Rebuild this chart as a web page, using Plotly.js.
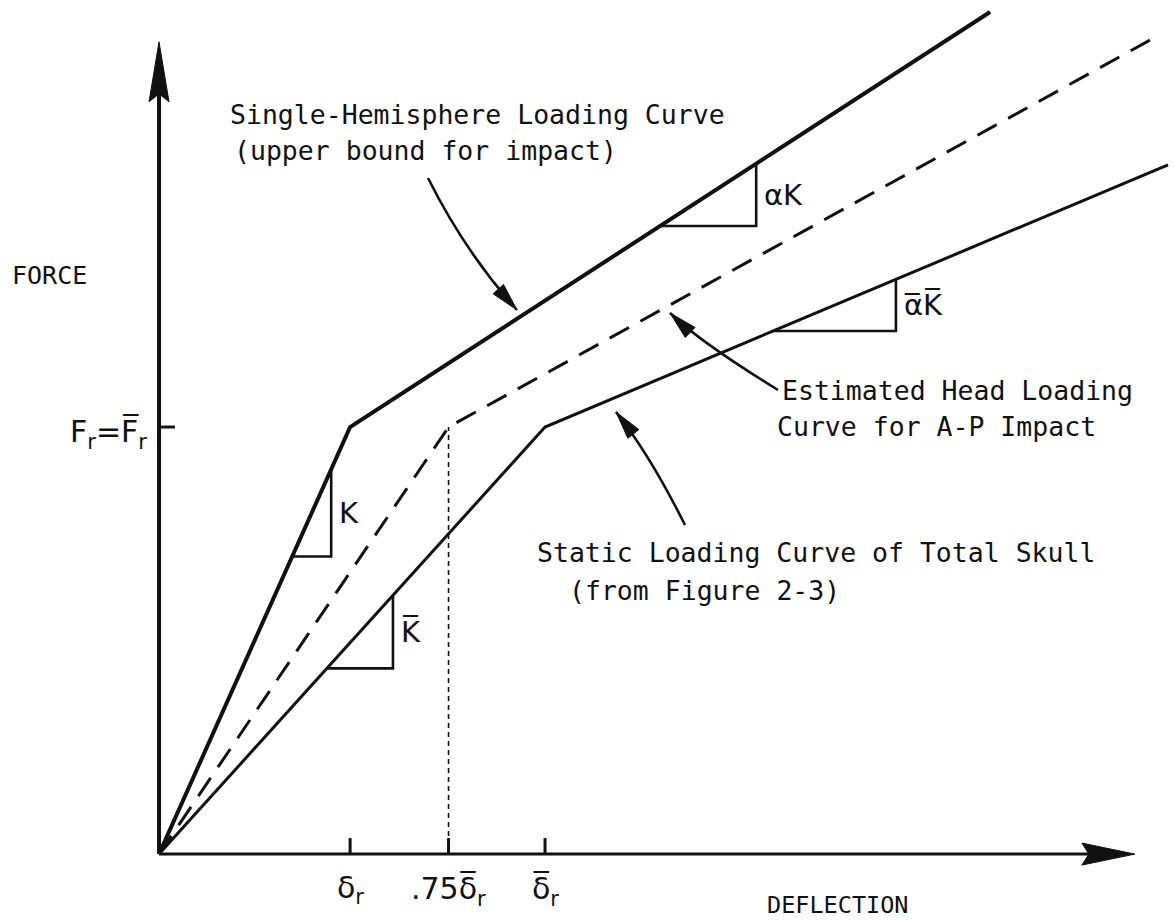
<!DOCTYPE html>
<html>
<head>
<meta charset="utf-8">
<script src="https://cdn.plot.ly/plotly-3.0.1.min.js"></script>
<style>
  html, body { margin: 0; padding: 0; background: #fff; }
  #chart { width: 1175px; height: 922px; }
</style>
</head>
<body>
<div id="chart"></div>
<script>
// Force–deflection idealisation: deflection in units of the static rupture
// deflection (δ̅r = 1), force in units of the rupture force (Fr = 1).

// Single-hemisphere loading curve (upper bound for impact)
const upperDeflection = [0, 0.495, 2.153];
const upperForce      = [0, 1.0,   1.972];

// Estimated head loading curve for A-P impact
const estimatedDeflection = [0, 0.75, 2.567];
const estimatedForce      = [0, 1.0,  1.906];

// Static loading curve of total skull
const staticDeflection = [0, 1.0, 2.614];
const staticForce      = [0, 1.0, 1.614];

// Axis tick positions and labels
const deflectionTicks  = [0.495, 0.75, 1.0];
const deflectionLabels = ['δ<sub>r</sub>', '.75δ\u0305<sub>r</sub>', 'δ\u0305<sub>r</sub>'];
const forceTicks  = [1.0];
const forceLabels = ['F<sub>r</sub>=F\u0305<sub>r</sub>'];

// Slope triangles: which curve, horizontal span, label
const slopeCurves = ['upper', 'static', 'upper', 'static'];
const slopeFrom   = [0.345, 0.435, 1.298, 1.591];
const slopeTo     = [0.446, 0.606, 1.547, 1.909];
const slopeLabels = ['K', 'K\u0305', 'αK', 'α\u0305K\u0305'];

// ---------------------------------------------------------------------------
const W = 1175, H = 922;
const xRange = [-0.412, 2.632];
const yRange = [-0.159, 2.0];
const sx = W / (xRange[1] - xRange[0]);   // px per deflection unit
const sy = H / (yRange[1] - yRange[0]);   // px per force unit

const curves = {
  upper:  { x: upperDeflection, y: upperForce },
  estimated: { x: estimatedDeflection, y: estimatedForce },
  static: { x: staticDeflection, y: staticForce }
};

function curveAt(c, x) {
  const xs = curves[c].x, ys = curves[c].y;
  for (let i = 0; i < xs.length - 1; i++) {
    if (x >= xs[i] && x <= xs[i + 1]) {
      const t = (x - xs[i]) / (xs[i + 1] - xs[i]);
      return ys[i] + t * (ys[i + 1] - ys[i]);
    }
  }
  return ys[ys.length - 1];
}

const INK = '#111';
const traces = [];

traces.push({
  x: upperDeflection, y: upperForce, mode: 'lines', hoverinfo: 'skip',
  line: { color: INK, width: 4 }
});
traces.push({
  x: estimatedDeflection, y: estimatedForce, mode: 'lines', hoverinfo: 'skip',
  line: { color: INK, width: 3, dash: '22px,13px' }
});
traces.push({
  x: staticDeflection, y: staticForce, mode: 'lines', hoverinfo: 'skip',
  line: { color: INK, width: 3 }
});

// dotted drop line from the estimated-curve knee
traces.push({
  x: [deflectionTicks[1], deflectionTicks[1]],
  y: [0, curveAt('estimated', deflectionTicks[1])],
  mode: 'lines', hoverinfo: 'skip',
  line: { color: INK, width: 1.6, dash: '5px,4px' }
});

// slope triangles
const annotations = [];
slopeCurves.forEach((c, i) => {
  const x0 = slopeFrom[i], x1 = slopeTo[i];
  const y0 = curveAt(c, x0), y1 = curveAt(c, x1);
  traces.push({
    x: [x0, x1, x1], y: [y0, y0, y1], mode: 'lines', hoverinfo: 'skip',
    line: { color: INK, width: 2.6 }
  });
  annotations.push({
    x: x1, y: (y0 + y1) / 2, xref: 'x', yref: 'y',
    text: slopeLabels[i], showarrow: false,
    xanchor: 'left', yanchor: 'middle', xshift: 6,
    font: { family: 'DejaVu Sans', size: 29, color: INK }
  });
});

// axes drawn as lines with arrowheads
const yTip = 1.902, xTip = 2.528;
const shapes = [];
shapes.push({ type: 'line', xref: 'x', yref: 'y', x0: 0, y0: 0, x1: 0, y1: yTip - 40 / sy,
  line: { color: INK, width: 4 } });
shapes.push({ type: 'line', xref: 'x', yref: 'y', x0: 0, y0: 0, x1: xTip - 40 / sx, y1: 0,
  line: { color: INK, width: 3 } });

function dataPath(pts) {
  return 'M' + pts.map(p => p[0] + ',' + p[1]).join(' L') + ' Z';
}
// vertical arrowhead
shapes.push({ type: 'path', xref: 'x', yref: 'y', fillcolor: INK, line: { color: INK, width: 1 },
  path: dataPath([
    [0, yTip], [10 / sx, yTip - 60 / sy], [0, yTip - 52 / sy], [-10 / sx, yTip - 60 / sy]
  ]) });
// horizontal arrowhead
shapes.push({ type: 'path', xref: 'x', yref: 'y', fillcolor: INK, line: { color: INK, width: 1 },
  path: dataPath([
    [xTip, 0], [xTip - 53 / sx, 11 / sy], [xTip - 46 / sx, 0], [xTip - 53 / sx, -11 / sy]
  ]) });

// tick marks (drawn inward)
deflectionTicks.forEach(v => {
  shapes.push({ type: 'line', xref: 'x', yref: 'y', x0: v, x1: v, y0: 0, y1: 16 / sy,
    line: { color: INK, width: 3 } });
});
forceTicks.forEach(v => {
  shapes.push({ type: 'line', xref: 'x', yref: 'y', x0: 0, x1: 16 / sx, y0: v, y1: v,
    line: { color: INK, width: 3 } });
});

// tick labels
deflectionTicks.forEach((v, i) => {
  annotations.push({
    x: v, y: 0, xref: 'x', yref: 'y', text: deflectionLabels[i], showarrow: false,
    xanchor: 'center', yanchor: 'top', yshift: -14,
    font: { family: 'DejaVu Sans', size: 30, color: INK }
  });
});
forceTicks.forEach((v, i) => {
  annotations.push({
    x: 0, y: v, xref: 'x', yref: 'y', text: forceLabels[i], showarrow: false,
    xanchor: 'right', yanchor: 'middle', xshift: -10, yshift: -6,
    font: { family: 'DejaVu Sans', size: 30, color: INK }
  });
});

// ---------------------------------------------------------------------------
// text notes (paper coordinates from pixel positions)
const P = (px, py) => [px / W, 1 - py / H];
const MONO = 'DejaVu Sans Mono';
function note(px, py, text, size) {
  const p = P(px, py);
  annotations.push({
    x: p[0], y: p[1], xref: 'paper', yref: 'paper', text: text, showarrow: false,
    xanchor: 'left', yanchor: 'middle',
    font: { family: MONO, size: size || 26.5, color: INK }
  });
}
note(228, 114, 'Single-Hemisphere Loading Curve');
note(232, 150, '(upper bound for impact)');
note(780, 390, 'Estimated Head Loading');
note(775, 426, 'Curve for A-P Impact');
note(535, 552, 'Static Loading Curve of Total Skull');
note(567, 590, '(from Figure 2-3)');
note(10, 275, 'FORCE', 25);
note(765, 905, 'DEFLECTION', 23.5);

// curved leader arrows
function leader(start, ctrl, tip) {
  const s = P(...start), c = P(...ctrl), t = P(...tip);
  shapes.push({ type: 'path', xref: 'paper', yref: 'paper', line: { color: INK, width: 2.6 },
    path: `M${s[0]},${s[1]} Q${c[0]},${c[1]} ${t[0]},${t[1]}` });
  // arrowhead aligned with the curve's end tangent
  let dx = tip[0] - ctrl[0], dy = tip[1] - ctrl[1];
  const len = Math.hypot(dx, dy); dx /= len; dy /= len;
  const L = 28, w = 7;
  const bx = tip[0] - L * dx, by = tip[1] - L * dy;
  const pts = [tip, [bx - w * dy, by + w * dx], [bx + w * dy, by - w * dx]].map(q => P(...q));
  shapes.push({ type: 'path', xref: 'paper', yref: 'paper', fillcolor: INK,
    line: { color: INK, width: 1 }, path: dataPath(pts) });
}
leader([428, 178], [465, 252], [517, 310]);
leader([778, 390], [700, 342], [670, 313]);
leader([685, 525], [650, 455], [616, 412]);

const layout = {
  width: W, height: H,
  margin: { l: 0, r: 0, t: 0, b: 0 },
  paper_bgcolor: '#fff', plot_bgcolor: '#fff',
  showlegend: false,
  xaxis: { range: xRange, visible: false, fixedrange: true },
  yaxis: { range: yRange, visible: false, fixedrange: true },
  shapes: shapes,
  annotations: annotations
};

Plotly.newPlot('chart', traces, layout, { staticPlot: true });
</script>
</body>
</html>
